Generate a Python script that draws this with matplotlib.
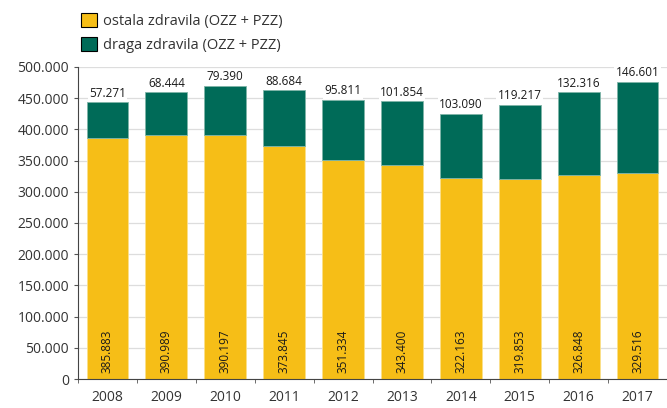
import matplotlib.pyplot as plt
import numpy as np
from matplotlib.patches import Patch
from matplotlib.ticker import FuncFormatter, MultipleLocator

plt.rcParams['font.family'] = ['Open Sans', 'DejaVu Sans']

# data
years = ['2008', '2009', '2010', '2011', '2012', '2013', '2014', '2015', '2016', '2017']
ostala = [385883, 390989, 390197, 373845, 351334, 343400, 322163, 319853, 326848, 329516]
draga = [57271, 68444, 79390, 88684, 95811, 101854, 103090, 119217, 132316, 146601]

yellow = '#F6BE17'
green = '#006B58'

def dots(v):
    return f'{int(v):,}'.replace(',', '.')

fig = plt.figure(figsize=(6.67, 4.08), dpi=100)
ax = fig.add_axes([0.117, 0.071, 0.883, 0.765])

x = np.arange(len(years))
ax.bar(x, ostala, width=0.71, color=yellow, edgecolor='#FBE08A', linewidth=0.6, zorder=2)
ax.bar(x, draga, width=0.71, bottom=ostala, color=green, edgecolor='#7FB5A8', linewidth=0.6, zorder=2)

for i in range(len(years)):
    ax.text(x[i], 9000, dots(ostala[i]), rotation=90, ha='center', va='bottom',
            fontsize=8.5, color='#1a1a1a', zorder=3)
    ax.text(x[i], ostala[i] + draga[i] + 4000, dots(draga[i]), ha='center', va='bottom',
            fontsize=8.5, color='#1a1a1a', zorder=3, clip_on=False,
            bbox=dict(facecolor='white', edgecolor='none', pad=1.0))

ax.set_xlim(-0.5, len(years) - 0.5)
ax.set_ylim(0, 500000)
ax.yaxis.set_major_locator(MultipleLocator(50000))
ax.yaxis.set_major_formatter(FuncFormatter(lambda v, p: dots(v)))
ax.set_xticks(x)
ax.set_xticklabels(years)
ax.set_xticks(np.arange(-0.5, len(years), 1), minor=True)
ax.tick_params(axis='x', which='major', length=0, pad=8, labelsize=10, colors='#333333')
ax.tick_params(axis='x', which='minor', length=3, color='#555555')
ax.tick_params(axis='y', length=3, labelsize=10, colors='#333333', color='#555555')

ax.grid(axis='y', color='#DDDDDD', linewidth=0.9, zorder=0)
ax.set_axisbelow(True)
for s in ['top', 'right']:
    ax.spines[s].set_visible(False)
ax.spines['left'].set_color('#444444')
ax.spines['bottom'].set_color('#444444')

handles = [Patch(facecolor=yellow, edgecolor='black', linewidth=0.8),
           Patch(facecolor=green, edgecolor='black', linewidth=0.8)]
fig.legend(handles, ['ostala zdravila (OZZ + PZZ)', 'draga zdravila (OZZ + PZZ)'],
           loc='upper left', bbox_to_anchor=(0.108, 0.99), frameon=False,
           fontsize=10.5, handlelength=1.1, handleheight=1.1, handletextpad=0.4,
           labelspacing=0.55, borderaxespad=0.2, labelcolor='#333333')

fig.savefig('out.png', dpi=100)
